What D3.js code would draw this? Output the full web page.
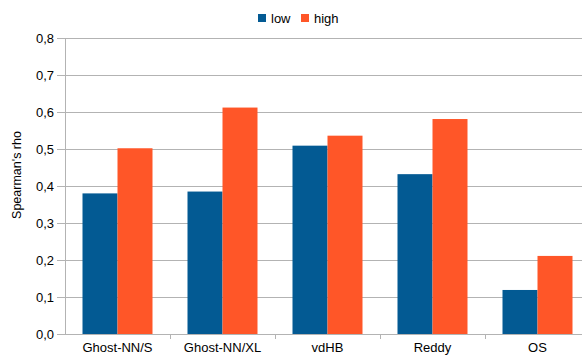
<!DOCTYPE html>
<html>
<head>
<meta charset="utf-8">
<script src="https://cdn.jsdelivr.net/npm/d3@7"></script>
<style>
  body { margin: 0; background: #fff; }
  svg { display: block; font-family: "Liberation Sans", Arial, sans-serif; }
</style>
</head>
<body>
<div id="chart"></div>
<script>
// Data
var categories = ["Ghost-NN/S", "Ghost-NN/XL", "vdHB", "Reddy", "OS"];
var seriesNames = ["low", "high"];
var lowValues = [0.380, 0.385, 0.509, 0.432, 0.119];
var highValues = [0.502, 0.612, 0.536, 0.581, 0.211];
var yTicks = [0, 0.1, 0.2, 0.3, 0.4, 0.5, 0.6, 0.7, 0.8];
var colors = ["#035a93", "#ff5628"];

var svgWidth = 582, svgHeight = 356;
var margin = {top: 38, right: -8, bottom: 22, left: 65};
var graphWidth = svgWidth - margin.left - margin.right;
var graphHeight = svgHeight - margin.top - margin.bottom;

var svg = d3.select("#chart")
    .append("svg")
        .attr("width", svgWidth)
        .attr("height", svgHeight);

var g = svg.append("g")
    .attr("transform", "translate(" + margin.left + "," + margin.top + ")");

// Scales
var x = d3.scaleBand()
    .domain(categories)
    .range([0, graphWidth]);
var xInner = d3.scaleBand()
    .domain(seriesNames)
    .range([0, x.bandwidth()])
    .paddingOuter(0.5);
var y = d3.scaleLinear()
    .domain([0, 0.8])
    .range([graphHeight, 0]);

// Gridlines
g.selectAll(".grid")
    .data(yTicks)
    .enter()
    .append("line")
        .attr("x1", 0)
        .attr("x2", graphWidth)
        .attr("y1", d => Math.round(y(d)) + 0.5)
        .attr("y2", d => Math.round(y(d)) + 0.5)
        .attr("stroke", "#b3b3b3")
        .attr("stroke-width", 1);

// Bars
var rows = categories.map((c, i) => ({cat: c, vals: [lowValues[i], highValues[i]]}));
var groups = g.selectAll(".grp")
    .data(rows)
    .enter()
    .append("g")
        .attr("transform", d => "translate(" + x(d.cat) + ",0)");
groups.selectAll("rect")
    .data(d => d.vals.map((v, j) => ({name: seriesNames[j], v: v, j: j})))
    .enter()
    .append("rect")
        .attr("x", d => xInner(d.name))
        .attr("y", d => y(d.v))
        .attr("width", xInner.bandwidth())
        .attr("height", d => graphHeight - y(d.v))
        .attr("fill", d => colors[d.j]);

// Y axis
var yAxis = g.append("g")
    .call(d3.axisLeft(y).tickValues(yTicks).tickSize(8).tickSizeOuter(0)
        .tickFormat(d => d3.format(".1f")(d).replace(".", ",")));
yAxis.select(".domain").attr("stroke", "#b3b3b3");
yAxis.selectAll(".tick line").attr("stroke", "#b3b3b3");
yAxis.selectAll(".tick text")
    .attr("x", -11)
    .attr("font-size", 13)
    .attr("fill", "#000")
    .attr("font-family", "Liberation Sans, Arial, sans-serif");

// X axis
var xAxis = g.append("g")
    .attr("transform", "translate(0," + graphHeight + ")")
    .call(d3.axisBottom(x).tickSize(0).tickSizeOuter(0));
xAxis.select(".domain").attr("stroke", "#b3b3b3");
xAxis.selectAll(".tick text")
    .attr("dy", 0)
    .attr("y", 18)
    .attr("font-size", 13)
    .attr("fill", "#000")
    .attr("font-family", "Liberation Sans, Arial, sans-serif");
// boundary ticks between categories
xAxis.selectAll(".bnd")
    .data(categories.slice(1))
    .enter()
    .append("line")
        .attr("x1", d => Math.round(x(d)) + 0.5)
        .attr("x2", d => Math.round(x(d)) + 0.5)
        .attr("y1", 0)
        .attr("y2", 5)
        .attr("stroke", "#b3b3b3");

// Y axis title
svg.append("text")
    .attr("transform", "translate(21,175) rotate(-90)")
    .attr("text-anchor", "middle")
    .attr("font-size", 12.5)
    .text("Spearman's  rho");

// Legend
var legend = svg.append("g");
var legendX = [258, 301];
seriesNames.forEach(function (name, i) {
    legend.append("rect")
        .attr("x", legendX[i])
        .attr("y", 14)
        .attr("width", 8)
        .attr("height", 8)
        .attr("fill", colors[i]);
    legend.append("text")
        .attr("x", legendX[i] + 13)
        .attr("y", 23)
        .attr("font-size", 13)
        .text(name);
});
</script>
</body>
</html>
